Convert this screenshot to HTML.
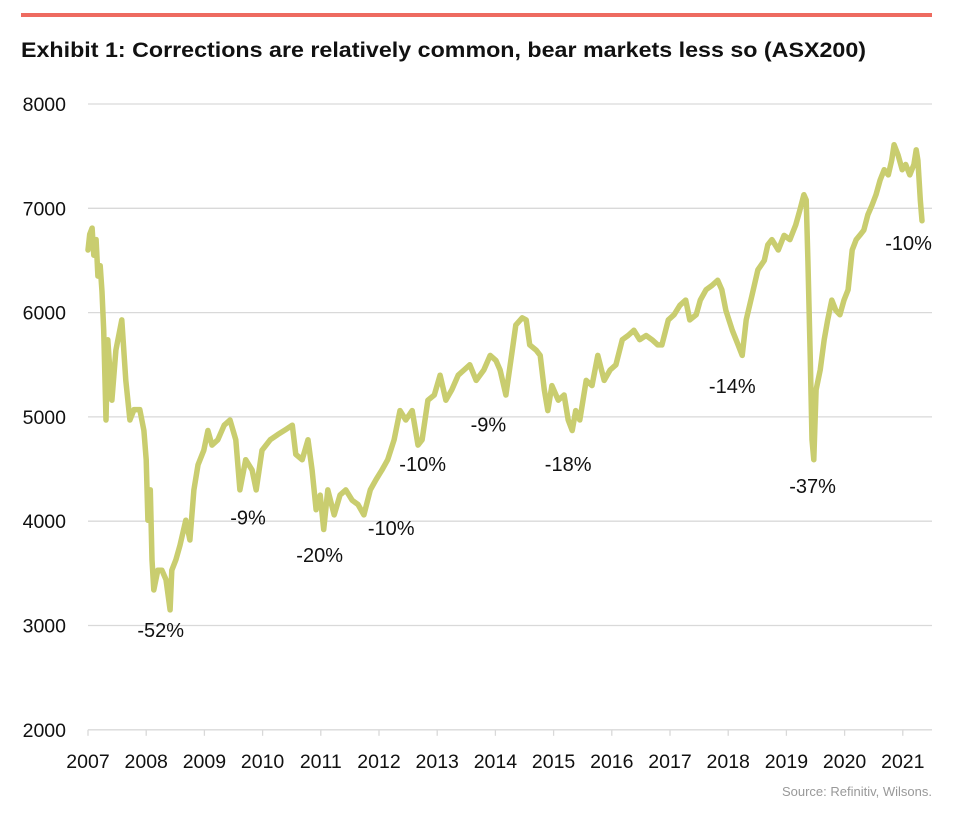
<!DOCTYPE html>
<html><head><meta charset="utf-8"><style>
html,body{margin:0;padding:0;background:#fff;}
svg{display:block;font-family:"Liberation Sans",sans-serif;}
</style></head><body>
<svg id="chart" width="954" height="817" viewBox="0 0 954 817">
<rect x="21" y="13" width="911" height="4" fill="#ee6b60"/>
<text x="21" y="57" font-size="21.5" font-weight="bold" fill="#111" textLength="845" lengthAdjust="spacingAndGlyphs">Exhibit 1: Corrections are relatively common, bear markets less so (ASX200)</text>
<g id="grid"></g><g id="axes"></g><g id="series"></g><g id="notes"></g>
<text x="932" y="796" font-size="13" fill="#999" text-anchor="end">Source: Refinitiv, Wilsons.</text>
</svg>
<script>
const yTicks=[2000,3000,4000,5000,6000,7000,8000];
const xTicks=[2007,2008,2009,2010,2011,2012,2013,2014,2015,2016,2017,2018,2019,2020,2021];
const dates=[0,.03,.07,.10,.14,.17,.21,.24,.27,.31,.34,.41,.48,.58,.65,.72,.79,.89,.96,1.00,1.03,1.07,1.10,1.13,1.20,1.27,1.34,1.41,1.44,1.51,1.58,1.68,1.75,1.82,1.89,1.99,2.06,2.13,2.23,2.34,2.44,2.54,2.61,2.71,2.82,2.89,2.99,3.13,3.26,3.40,3.51,3.57,3.68,3.78,3.85,3.92,3.99,4.05,4.12,4.23,4.33,4.43,4.54,4.64,4.74,4.85,4.95,5.05,5.15,5.26,5.36,5.46,5.57,5.67,5.74,5.84,5.95,6.05,6.15,6.25,6.36,6.46,6.56,6.67,6.80,6.91,7.01,7.08,7.18,7.29,7.35,7.46,7.53,7.59,7.70,7.77,7.84,7.90,7.97,8.08,8.18,8.25,8.32,8.38,8.45,8.56,8.66,8.76,8.87,8.97,9.07,9.18,9.28,9.38,9.48,9.59,9.69,9.79,9.86,9.97,10.07,10.17,10.27,10.34,10.45,10.52,10.62,10.72,10.82,10.89,10.96,11.07,11.17,11.24,11.31,11.41,11.51,11.62,11.68,11.75,11.86,11.96,12.06,12.16,12.23,12.30,12.34,12.37,12.41,12.44,12.47,12.51,12.58,12.65,12.71,12.78,12.85,12.92,12.99,13.06,13.13,13.20,13.26,13.33,13.40,13.47,13.54,13.61,13.68,13.75,13.81,13.85,13.92,13.99,14.05,14.12,14.19,14.23,14.26,14.30,14.33];
const values=[6600,6750,6810,6550,6700,6350,6450,6200,5830,4970,5740,5160,5640,5930,5350,4970,5070,5070,4870,4590,4010,4300,3630,3340,3530,3530,3440,3150,3530,3630,3770,4010,3820,4300,4540,4680,4870,4730,4780,4920,4970,4780,4300,4590,4490,4300,4680,4780,4830,4880,4920,4640,4590,4780,4490,4110,4250,3920,4300,4060,4250,4300,4200,4160,4060,4300,4400,4490,4590,4780,5060,4970,5060,4730,4780,5160,5210,5400,5160,5260,5400,5450,5500,5350,5450,5590,5540,5450,5210,5640,5880,5950,5930,5690,5640,5590,5260,5060,5300,5160,5210,4970,4870,5060,4970,5350,5300,5590,5350,5450,5500,5740,5780,5830,5740,5780,5740,5690,5690,5930,5980,6070,6120,5930,5980,6120,6220,6260,6310,6220,6020,5830,5690,5590,5930,6170,6410,6500,6650,6700,6600,6740,6700,6840,6980,7130,7080,6500,5550,4780,4590,5260,5450,5740,5930,6120,6020,5980,6120,6220,6600,6700,6740,6790,6940,7030,7130,7270,7370,7320,7460,7610,7510,7370,7420,7320,7420,7560,7460,7080,6880];
const noteText=["-52%","-9%","-20%","-10%","-10%","-9%","-18%","-14%","-37%","-10%"];
const noteDate=[1.25,2.75,3.98,5.21,5.75,6.88,8.25,11.07,12.45,14.1];
const noteVal=[2890,3970,3610,3870,4480,4860,4480,5230,4270,6600];

const NS="http://www.w3.org/2000/svg";
const X0=88,XS=58.2,Y0=104,YS=0.1043;
const xs=d=>X0+d*XS, ys=v=>Y0+(8000-v)*YS;
function mk(t,p,a){const e=document.createElementNS(NS,t);for(const k in a)e.setAttribute(k,a[k]);p.appendChild(e);return e;}
const grid=document.getElementById('grid'),axes=document.getElementById('axes'),ser=document.getElementById('series'),notes=document.getElementById('notes');
yTicks.forEach(v=>{
 const l=mk('line',grid,{x1:88,x2:932,y1:ys(v),y2:ys(v),stroke:'#d9d9d9','stroke-width':1.3});
 
 
 const t=mk('text',axes,{x:66,y:ys(v)+7,'font-size':19.5,'text-anchor':'end',fill:'#111'});
 
 
 t.textContent=v;
});
xTicks.forEach(y=>{
 const x=xs(y-2007);
 const l=mk('line',axes,{x1:x,x2:x,y1:ys(2000),y2:ys(2000)+6,stroke:'#d9d9d9','stroke-width':1.3});
 
 
 const t=mk('text',axes,{x:x,y:ys(2000)+38,'font-size':19.5,'text-anchor':'middle',fill:'#111'});
 
 
 t.textContent=y;
});
const pts=dates.map((d,i)=>xs(d).toFixed(1)+','+ys(values[i]).toFixed(1)).join(' ');
const pl=mk('polyline',ser,{points:pts,fill:'none',stroke:'#c9cd6f','stroke-width':5.5,'stroke-linejoin':'round','stroke-linecap':'round'});


noteText.forEach((s,i)=>{
 const t=mk('text',notes,{x:xs(noteDate[i]),y:ys(noteVal[i]),'font-size':20,'text-anchor':'middle',fill:'#111'});
 
 
 t.textContent=s;
});
</script>
</body></html>
